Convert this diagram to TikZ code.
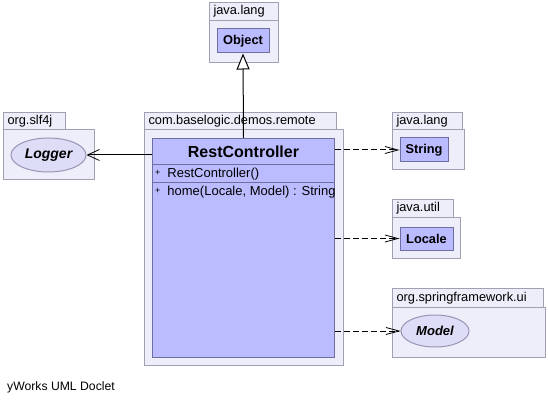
\documentclass[tikz,border=0pt]{standalone}
\usepackage{fontspec}
\setmainfont{Liberation Sans}
\usetikzlibrary{arrows.meta,calc,shapes.geometric}
\definecolor{pkgfill}{RGB}{238,238,250}
\definecolor{pkgline}{RGB}{160,160,178}
\definecolor{clsfill}{RGB}{187,187,255}
\definecolor{clsline}{RGB}{110,110,160}
\definecolor{ellfill}{RGB}{221,221,248}
\definecolor{ellline}{RGB}{150,150,180}
\begin{document}
\begin{tikzpicture}[x=1pt,y=-1pt,
  pkgtab/.style={draw=pkgline,fill=pkgfill,line width=1pt,anchor=north west,
    inner xsep=4pt,inner ysep=0pt,minimum height=18pt,align=left,
    font=\fontsize{12.8}{14}\selectfont},
  pkgbody/.style={draw=pkgline,fill=pkgfill,line width=1pt,anchor=north west,inner sep=0pt},
  clsbox/.style={draw=clsline,fill=clsfill,line width=1pt,inner sep=0pt,
    font=\bfseries\fontsize{12.8}{14}\selectfont},
  ifcell/.style={draw=ellline,fill=ellfill,line width=1pt,ellipse,inner sep=0pt,
    font=\bfseries\itshape\fontsize{13}{15}\selectfont},
  member/.style={anchor=west,inner sep=0pt,font=\fontsize{13}{15}\selectfont},
  dep/.style={draw=black,line width=1pt,dash pattern=on 6pt off 3pt,
    -{Straight Barb[length=13pt,width=7pt,line width=0.8pt]}},
  assoc/.style={draw=black,line width=1pt,-{Straight Barb[length=12pt,width=11pt,line width=0.8pt]}},
  inh/.style={draw=black,line width=1pt,-{Triangle[open,length=16pt,width=13pt,fill=white]}}
]
\useasboundingbox (0,0) rectangle (548,403);
\fill[white] (0,0) rectangle (548,403);

% java.lang (Object)
\node[pkgtab,text width=61pt] (t1) at (209,2) {java.lang};
\node[pkgbody,minimum width=69pt,minimum height=42pt] (b1) at (209,20) {};
\node[clsbox,minimum width=52pt,minimum height=24pt] (obj) at (243,41) {Object};

% org.slf4j
\node[pkgtab,text width=54pt] (t2) at (3,112) {org.slf4j};
\node[pkgbody,minimum width=91pt,minimum height=50pt] (b2) at (3,129) {};
\node[ifcell,minimum width=75pt,minimum height=34pt,font=\bfseries\itshape\fontsize{14}{16}\selectfont] (lg) at (48.5,155) {Logger};

% com.baselogic.demos.remote
\node[pkgtab,text width=184pt] (t3) at (144,112) {com.baselogic.demos.remote};
\node[pkgbody,minimum width=199pt,minimum height=236pt] (b3) at (144,129) {};
\node[clsbox,anchor=north west,minimum width=182pt,minimum height=219pt] (rc) at (152,138) {};
\node[inner sep=0pt,font=\bfseries\fontsize{16}{18}\selectfont] (rcname) at ($(rc.north)+(0,14)$) {RestController};
\draw[clsline,line width=1pt] ($(rc.north west)+(0,27)$) coordinate (c1) -- ($(rc.north east)+(0,27)$) coordinate (c2);
\draw[clsline,line width=1pt] ($(rc.north west)+(0,45)$) coordinate (c3) -- ($(rc.north east)+(0,45)$) coordinate (c4);
\node[member] (m1) at ($(rc.north west)+(3,36)$) {\raisebox{1.5pt}{\fontsize{9}{9}\selectfont +}\hspace{7pt}RestController()};
\node[member] (m2) at ($(rc.north west)+(3,54)$) {\raisebox{1.5pt}{\fontsize{9}{9}\selectfont +}\hspace{7pt}home(Locale, Model) : String};

% java.lang (String)
\node[pkgtab,text width=62pt] (t4) at (392,112) {java.lang};
\node[pkgbody,minimum width=72pt,minimum height=40pt] (b4) at (392,129) {};
\node[clsbox,minimum width=48pt,minimum height=24pt] (str) at (424,150) {String};

% java.util
\node[pkgtab,text width=53pt] (t5) at (392,199) {java.util};
\node[pkgbody,minimum width=68pt,minimum height=41pt] (b5) at (392,217) {};
\node[clsbox,minimum width=53pt,minimum height=23pt] (loc) at (426.5,238.5) {Locale};

% org.springframework.ui
\node[pkgtab,text width=143pt,minimum height=19pt] (t6) at (392,288) {org.springframework.ui};
\node[pkgbody,minimum width=153pt,minimum height=50pt] (b6) at (392,307) {};
\node[ifcell,minimum width=68pt,minimum height=32pt] (mdl) at (435,331) {Model};

% connectors
\draw[inh] (rc.north) -- (obj.south);
\draw[assoc] (rc.west |- lg.east) -- (lg.east);
\draw[dep] (rc.east |- str.west) -- (str.west);
\draw[dep] (rc.east |- loc.west) -- (loc.west);
\draw[dep] (rc.east |- mdl.west) -- (mdl.west);

\node[anchor=west,inner sep=0pt,font=\fontsize{12.2}{14}\selectfont] (yw) at (7,387) {yWorks UML Doclet};
\end{tikzpicture}
\end{document}
